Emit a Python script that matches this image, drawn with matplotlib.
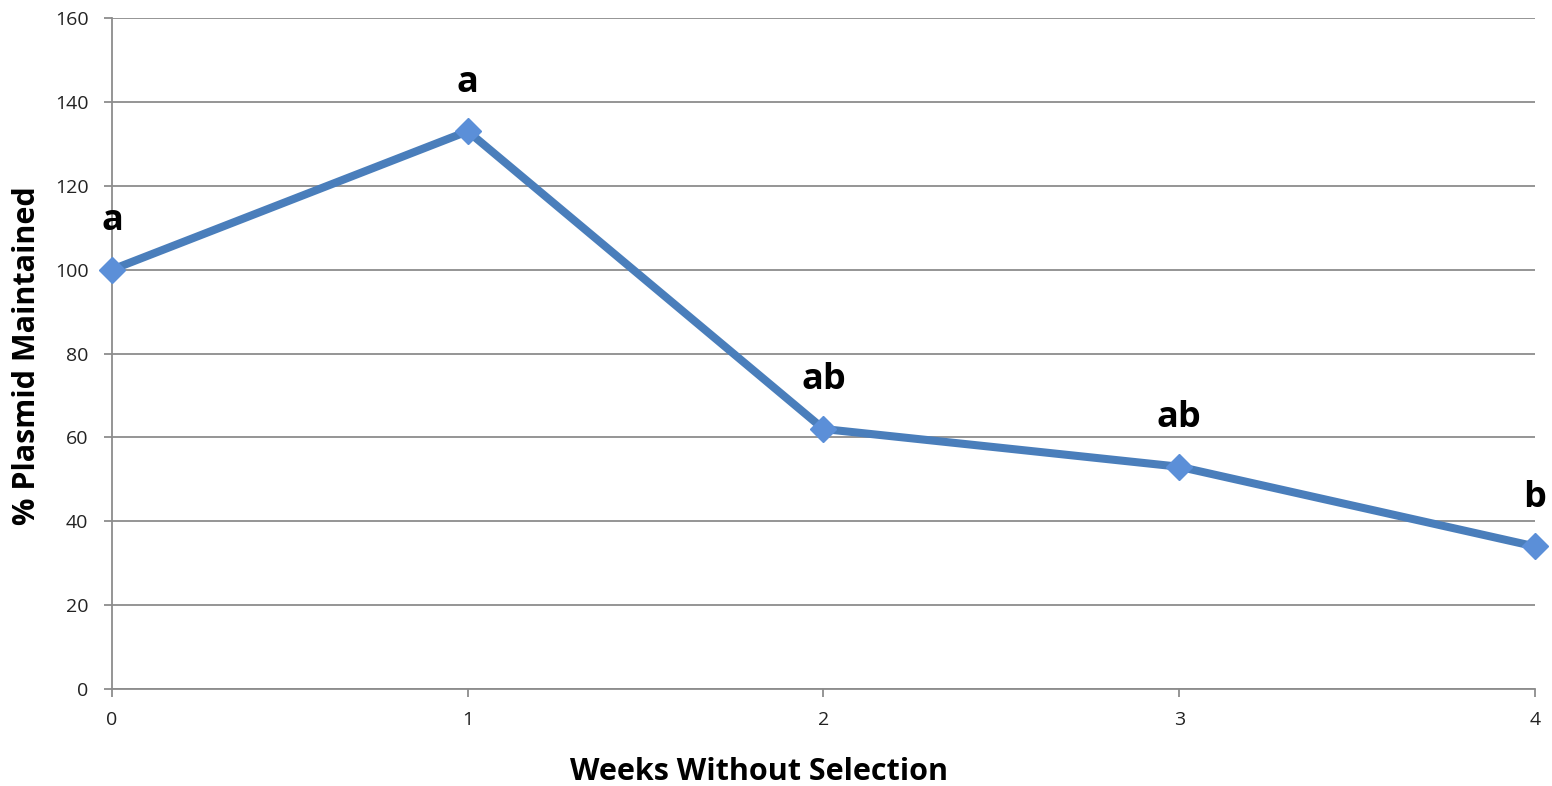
import matplotlib.pyplot as plt

# Data
weeks = [0, 1, 2, 3, 4]
plasmid = [100, 133, 62, 53, 34]
letters = ["a", "a", "ab", "ab", "b"]

plt.rcParams['font.family'] = ['Open Sans', 'DejaVu Sans']

fig = plt.figure(figsize=(15.52, 7.86), dpi=100)
ax = fig.add_axes([0.0722, 0.1234, 0.9168, 0.8537])

ax.plot(weeks, plasmid, color='#4a7ebb', linewidth=5.8, zorder=3,
        marker='D', markersize=13, markerfacecolor='#5b8fd8',
        markeredgecolor='#5b8fd8', clip_on=False)

for x, y, t in zip(weeks, plasmid, letters):
    ax.annotate(t, (x, y), xytext=(0, 22), textcoords='offset points',
                ha='center', va='bottom', fontsize=26, fontweight='bold',
                annotation_clip=False)

ax.set_xlim(0, 4)
ax.set_ylim(0, 160)
ax.set_xticks(weeks)
ax.set_yticks(range(0, 161, 20))
ax.grid(axis='y', color='#8c8c8c', linewidth=1.3)
ax.set_axisbelow(True)

for s in ['top', 'right']:
    ax.spines[s].set_visible(False)
for s in ['left', 'bottom']:
    ax.spines[s].set_color('#8c8c8c')
    ax.spines[s].set_linewidth(1.3)

ax.tick_params(axis='both', colors='#8c8c8c', length=6, width=1.3,
               labelsize=14, labelcolor='#222222')
ax.tick_params(axis='x', pad=10)
ax.tick_params(axis='y', pad=11)

fig.text(759 / 1552, 1 - 772 / 786, "Weeks Without Selection", fontsize=22,
         fontweight='bold', ha='center', va='center')
fig.text(27 / 1552, 1 - 356 / 786, "% Plasmid Maintained", fontsize=22,
         fontweight='bold', ha='center', va='center', rotation=90)

fig.savefig("out.png", dpi=100)
